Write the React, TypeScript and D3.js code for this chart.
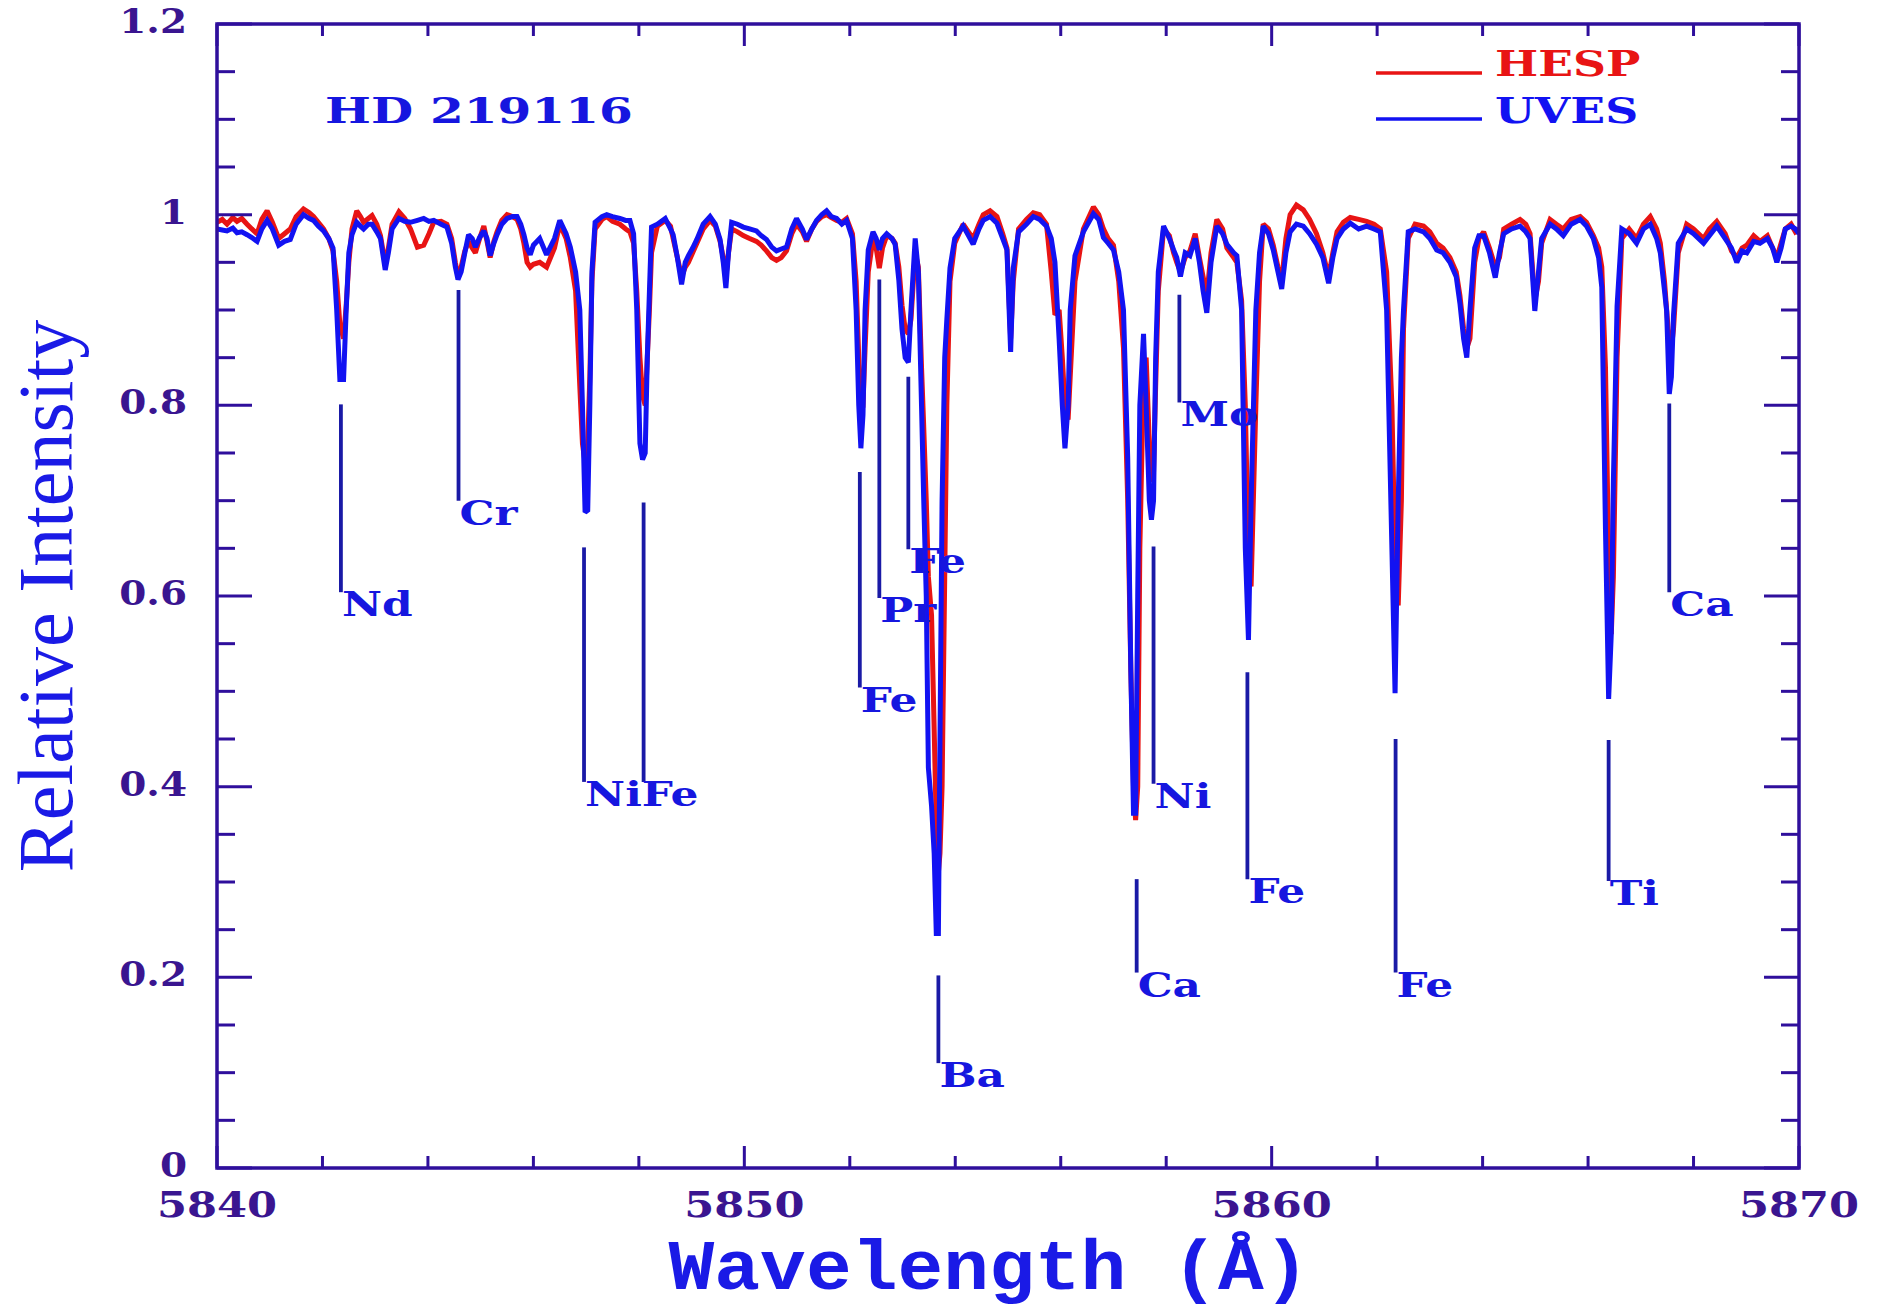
import React from "react";
import * as d3 from "d3";

// Sampled wavelengths (Å) shared by both spectra
const wavelengths = [
  5840.00, 5840.10, 5840.19, 5840.30, 5840.38, 5840.47, 5840.57, 5840.66, 5840.76, 5840.85,
  5840.95, 5841.05, 5841.17, 5841.28, 5841.39, 5841.50, 5841.64, 5841.75, 5841.83, 5841.92,
  5842.02, 5842.12, 5842.20, 5842.27, 5842.33, 5842.40, 5842.45, 5842.50, 5842.56, 5842.65,
  5842.72, 5842.78, 5842.87, 5842.94, 5843.03, 5843.10, 5843.19, 5843.25, 5843.32, 5843.45,
  5843.56, 5843.67, 5843.80, 5843.92, 5844.02, 5844.11, 5844.25, 5844.36, 5844.45, 5844.52,
  5844.57, 5844.63, 5844.70, 5844.77, 5844.84, 5844.90, 5844.98, 5845.06, 5845.12, 5845.18,
  5845.25, 5845.31, 5845.40, 5845.50, 5845.60, 5845.69, 5845.76, 5845.82, 5845.88, 5845.94,
  5846.00, 5846.12, 5846.25, 5846.40, 5846.50, 5846.62, 5846.70, 5846.80, 5846.88, 5846.93,
  5846.98, 5847.03, 5847.07, 5847.11, 5847.17, 5847.30, 5847.39, 5847.50, 5847.64, 5847.75,
  5847.83, 5847.90, 5847.96, 5848.02, 5848.07, 5848.12, 5848.16, 5848.20, 5848.24, 5848.35,
  5848.50, 5848.60, 5848.65, 5848.73, 5848.81, 5848.88, 5848.94, 5849.02, 5849.10, 5849.22,
  5849.35, 5849.45, 5849.54, 5849.60, 5849.65, 5849.70, 5849.76, 5849.87, 5849.98, 5850.10,
  5850.23, 5850.32, 5850.42, 5850.52, 5850.61, 5850.70, 5850.80, 5850.90, 5850.99, 5851.10,
  5851.18, 5851.28, 5851.37, 5851.47, 5851.56, 5851.65, 5851.75, 5851.85, 5851.94, 5852.05,
  5852.12, 5852.17, 5852.21, 5852.25, 5852.29, 5852.35, 5852.44, 5852.50, 5852.56, 5852.62,
  5852.70, 5852.80, 5852.86, 5852.93, 5852.99, 5853.05, 5853.11, 5853.16, 5853.24, 5853.30,
  5853.36, 5853.40, 5853.45, 5853.49, 5853.55, 5853.60, 5853.64, 5853.68, 5853.71, 5853.75,
  5853.80, 5853.84, 5853.90, 5853.99, 5854.15, 5854.25, 5854.34, 5854.45, 5854.53, 5854.66,
  5854.79, 5854.90, 5854.98, 5855.05, 5855.10, 5855.20, 5855.35, 5855.48, 5855.60, 5855.73,
  5855.82, 5855.89, 5855.97, 5856.03, 5856.08, 5856.14, 5856.18, 5856.27, 5856.43, 5856.62,
  5856.72, 5856.81, 5856.90, 5857.00, 5857.10, 5857.19, 5857.27, 5857.33, 5857.38, 5857.42,
  5857.46, 5857.50, 5857.57, 5857.62, 5857.68, 5857.72, 5857.76, 5857.80, 5857.85, 5857.95,
  5858.06, 5858.14, 5858.20, 5858.27, 5858.36, 5858.45, 5858.55, 5858.63, 5858.70, 5858.77,
  5858.85, 5858.96, 5859.07, 5859.15, 5859.28, 5859.34, 5859.43, 5859.50, 5859.56, 5859.61,
  5859.70, 5859.77, 5859.84, 5859.94, 5860.03, 5860.12, 5860.19, 5860.27, 5860.35, 5860.47,
  5860.60, 5860.72, 5860.85, 5860.97, 5861.08, 5861.16, 5861.24, 5861.36, 5861.49, 5861.65,
  5861.80, 5861.94, 5862.06, 5862.18, 5862.28, 5862.34, 5862.40, 5862.46, 5862.50, 5862.59,
  5862.72, 5862.88, 5863.00, 5863.13, 5863.25, 5863.38, 5863.50, 5863.57, 5863.64, 5863.70,
  5863.76, 5863.85, 5863.93, 5864.02, 5864.13, 5864.24, 5864.32, 5864.40, 5864.55, 5864.71,
  5864.82, 5864.90, 5864.99, 5865.06, 5865.12, 5865.28, 5865.40, 5865.53, 5865.68, 5865.85,
  5865.97, 5866.10, 5866.20, 5866.26, 5866.33, 5866.39, 5866.44, 5866.48, 5866.55, 5866.64,
  5866.78, 5866.92, 5867.05, 5867.18, 5867.30, 5867.37, 5867.45, 5867.49, 5867.54, 5867.58,
  5867.62, 5867.71, 5867.87, 5868.00, 5868.19, 5868.30, 5868.44, 5868.60, 5868.72, 5868.82,
  5868.92, 5869.01, 5869.14, 5869.26, 5869.40, 5869.50, 5869.58, 5869.66, 5869.74, 5869.85,
  5869.93, 5870.00,
];

// UVES relative intensity
const uvesFlux = [
  0.985, 0.984, 0.983, 0.986, 0.981, 0.982, 0.979, 0.976, 0.972, 0.985,
  0.994, 0.985, 0.968, 0.972, 0.974, 0.990, 1.000, 0.996, 0.994, 0.988,
  0.983, 0.975, 0.965, 0.900, 0.827, 0.827, 0.900, 0.960, 0.979, 0.992,
  0.988, 0.985, 0.990, 0.990, 0.982, 0.975, 0.942, 0.960, 0.985, 0.996,
  0.993, 0.992, 0.994, 0.996, 0.993, 0.994, 0.990, 0.987, 0.970, 0.945,
  0.932, 0.940, 0.960, 0.979, 0.975, 0.966, 0.976, 0.983, 0.975, 0.957,
  0.970, 0.979, 0.990, 0.996, 0.998, 0.998, 0.990, 0.979, 0.965, 0.958,
  0.968, 0.975, 0.958, 0.975, 0.994, 0.980, 0.966, 0.940, 0.900, 0.800,
  0.688, 0.690, 0.800, 0.940, 0.992, 0.998, 1.000, 0.998, 0.996, 0.994,
  0.994, 0.980, 0.900, 0.760, 0.743, 0.750, 0.850, 0.919, 0.987, 0.990,
  0.996, 0.985, 0.979, 0.955, 0.927, 0.950, 0.957, 0.965, 0.974, 0.990,
  0.998, 0.990, 0.974, 0.950, 0.923, 0.960, 0.992, 0.990, 0.987, 0.985,
  0.983, 0.978, 0.974, 0.966, 0.962, 0.964, 0.966, 0.985, 0.996, 0.985,
  0.974, 0.985, 0.994, 1.000, 1.004, 0.998, 0.996, 0.990, 0.994, 0.975,
  0.900, 0.800, 0.755, 0.790, 0.900, 0.963, 0.982, 0.975, 0.963, 0.975,
  0.980, 0.975, 0.969, 0.931, 0.880, 0.850, 0.845, 0.900, 0.975, 0.940,
  0.800, 0.705, 0.600, 0.420, 0.380, 0.330, 0.246, 0.246, 0.450, 0.700,
  0.850, 0.890, 0.944, 0.975, 0.988, 0.978, 0.969, 0.985, 0.994, 0.998,
  0.991, 0.975, 0.963, 0.856, 0.944, 0.982, 0.990, 0.998, 0.995, 0.988,
  0.975, 0.950, 0.869, 0.800, 0.755, 0.800, 0.900, 0.957, 0.982, 1.001,
  0.995, 0.976, 0.970, 0.963, 0.940, 0.900, 0.745, 0.520, 0.372, 0.372,
  0.600, 0.800, 0.875, 0.800, 0.700, 0.680, 0.700, 0.850, 0.940, 0.988,
  0.975, 0.963, 0.955, 0.935, 0.960, 0.957, 0.975, 0.950, 0.920, 0.897,
  0.950, 0.988, 0.980, 0.969, 0.960, 0.957, 0.900, 0.650, 0.554, 0.700,
  0.900, 0.960, 0.988, 0.980, 0.963, 0.940, 0.922, 0.960, 0.982, 0.990,
  0.988, 0.980, 0.969, 0.955, 0.928, 0.955, 0.975, 0.985, 0.991, 0.985,
  0.988, 0.985, 0.982, 0.900, 0.650, 0.498, 0.700, 0.850, 0.900, 0.982,
  0.985, 0.982, 0.975, 0.963, 0.960, 0.950, 0.935, 0.907, 0.870, 0.850,
  0.900, 0.965, 0.978, 0.978, 0.960, 0.934, 0.960, 0.980, 0.985, 0.988,
  0.982, 0.975, 0.899, 0.940, 0.975, 0.990, 0.985, 0.978, 0.990, 0.995,
  0.988, 0.975, 0.955, 0.924, 0.670, 0.492, 0.560, 0.720, 0.904, 0.985,
  0.980, 0.970, 0.985, 0.990, 0.975, 0.960, 0.920, 0.899, 0.812, 0.830,
  0.894, 0.970, 0.985, 0.980, 0.970, 0.978, 0.988, 0.975, 0.965, 0.950,
  0.962, 0.960, 0.972, 0.970, 0.975, 0.965, 0.950, 0.965, 0.985, 0.988,
  0.985, 0.980,
];

// HESP relative intensity
const hespFlux = [
  0.992, 0.995, 0.990, 0.997, 0.993, 0.996, 0.990, 0.985, 0.980, 0.995,
  1.004, 0.992, 0.975, 0.980, 0.985, 0.998, 1.006, 1.002, 0.998, 0.992,
  0.985, 0.975, 0.962, 0.930, 0.885, 0.870, 0.905, 0.950, 0.985, 1.004,
  0.998, 0.992, 0.996, 0.999, 0.990, 0.978, 0.948, 0.965, 0.990, 1.003,
  0.996, 0.985, 0.966, 0.968, 0.980, 0.992, 0.993, 0.990, 0.975, 0.950,
  0.935, 0.945, 0.962, 0.972, 0.965, 0.960, 0.975, 0.988, 0.972, 0.955,
  0.972, 0.982, 0.994, 1.000, 0.998, 0.995, 0.985, 0.970, 0.950, 0.945,
  0.948, 0.950, 0.945, 0.965, 0.990, 0.975, 0.955, 0.920, 0.820, 0.760,
  0.740, 0.760, 0.830, 0.930, 0.985, 0.995, 0.998, 0.993, 0.990, 0.985,
  0.982, 0.970, 0.920, 0.850, 0.810, 0.800, 0.850, 0.900, 0.960, 0.988,
  0.994, 0.988, 0.975, 0.955, 0.935, 0.945, 0.950, 0.960, 0.970, 0.985,
  0.994, 0.988, 0.972, 0.955, 0.935, 0.960, 0.985, 0.982, 0.978, 0.975,
  0.972, 0.968, 0.962, 0.955, 0.952, 0.955, 0.962, 0.980, 0.990, 0.982,
  0.972, 0.985, 0.993, 0.998, 1.000, 0.997, 0.994, 0.992, 0.996, 0.980,
  0.930, 0.850, 0.800, 0.800, 0.860, 0.940, 0.975, 0.965, 0.944, 0.965,
  0.978, 0.975, 0.970, 0.945, 0.905, 0.880, 0.875, 0.890, 0.960, 0.945,
  0.840, 0.780, 0.700, 0.620, 0.580, 0.460, 0.360, 0.310, 0.330, 0.400,
  0.620, 0.800, 0.930, 0.970, 0.990, 0.982, 0.975, 0.990, 1.000, 1.004,
  0.998, 0.980, 0.965, 0.870, 0.930, 0.985, 0.995, 1.002, 1.000, 0.990,
  0.940, 0.895, 0.900, 0.850, 0.800, 0.785, 0.830, 0.930, 0.985, 1.008,
  1.000, 0.985, 0.975, 0.968, 0.930, 0.860, 0.700, 0.520, 0.400, 0.365,
  0.400, 0.650, 0.830, 0.850, 0.760, 0.720, 0.730, 0.820, 0.920, 0.985,
  0.978, 0.960, 0.950, 0.940, 0.955, 0.962, 0.980, 0.955, 0.935, 0.915,
  0.960, 0.995, 0.985, 0.965, 0.955, 0.950, 0.910, 0.800, 0.640, 0.610,
  0.800, 0.930, 0.990, 0.985, 0.968, 0.945, 0.930, 0.975, 1.000, 1.010,
  1.005, 0.995, 0.980, 0.960, 0.935, 0.960, 0.982, 0.992, 0.997, 0.995,
  0.993, 0.990, 0.985, 0.940, 0.800, 0.640, 0.590, 0.700, 0.880, 0.975,
  0.990, 0.988, 0.982, 0.970, 0.965, 0.955, 0.940, 0.915, 0.880, 0.860,
  0.870, 0.950, 0.975, 0.982, 0.965, 0.945, 0.955, 0.985, 0.990, 0.995,
  0.990, 0.980, 0.910, 0.930, 0.970, 0.995, 0.990, 0.985, 0.995, 0.998,
  0.992, 0.978, 0.965, 0.945, 0.840, 0.640, 0.560, 0.620, 0.850, 0.975,
  0.985, 0.975, 0.990, 0.998, 0.985, 0.970, 0.930, 0.900, 0.865, 0.860,
  0.880, 0.960, 0.990, 0.985, 0.975, 0.985, 0.993, 0.980, 0.962, 0.955,
  0.965, 0.968, 0.978, 0.972, 0.978, 0.965, 0.955, 0.970, 0.985, 0.990,
  0.982, 0.985,
];

// Axis ticks
const xTickValues = [5840, 5850, 5860, 5870];
const xTickLabels = ["5840", "5850", "5860", "5870"];
const yTickValues = [0, 0.2, 0.4, 0.6, 0.8, 1, 1.2];
const yTickLabels = ["0", "0.2", "0.4", "0.6", "0.8", "1", "1.2"];

// Line identifications: wavelength, top and bottom of the marker, and its label
const markerWaves = [5842.35, 5844.58, 5846.96, 5848.09, 5852.19, 5852.56, 5853.11, 5853.68, 5857.44, 5857.76, 5858.25, 5859.54, 5862.35, 5866.39, 5867.54];
const markerTops = [0.801, 0.921, 0.651, 0.698, 0.730, 0.932, 0.830, 0.202, 0.303, 0.652, 0.916, 0.520, 0.450, 0.449, 0.802];
const markerBottoms = [0.604, 0.700, 0.405, 0.405, 0.504, 0.598, 0.649, 0.110, 0.205, 0.403, 0.803, 0.303, 0.205, 0.301, 0.604];
const markerLabels = ["Nd", "Cr", "NiFe", "", "Fe", "Pr", "Fe", "Ba", "Ca", "Ni", "Mo", "Fe", "Fe", "Ti", "Ca"];

const seriesNames = ["HESP", "UVES"];
const starName = "HD 219116";

const W = 1878;
const H = 1311;
const plot = { left: 217, right: 1799, top: 24, bottom: 1168 };

const AXIS = "#2f0f9c";
const TICK_TEXT = "#3a1590";
const BLUE = "#1212f2";
const RED = "#e81414";
const LABEL_BLUE = "#1616df";
const MARKER = "#1a1aa6";
const SLAB = "'DejaVu Serif', serif";

function WideText(props: {
  x: number; y: number; sx: number; size: number; fill: string;
  anchor?: "start" | "middle" | "end"; family?: string; weight?: string | number;
  children: React.ReactNode;
}) {
  const { x, y, sx, size, fill, anchor = "start", family = SLAB, weight = "bold", children } = props;
  return (
    <text
      transform={`translate(${x},${y}) scale(${sx},1)`}
      fontFamily={family}
      fontWeight={weight}
      fontSize={size}
      fill={fill}
      textAnchor={anchor}
    >
      {children}
    </text>
  );
}

export default function App() {
  const x = d3.scaleLinear().domain([5840, 5870]).range([plot.left, plot.right]);
  const y = d3.scaleLinear().domain([0, 1.2]).range([plot.bottom, plot.top]);

  const spectrum = (flux: number[]) =>
    d3.line<number>()
      .x((_, i) => x(wavelengths[i]))
      .y((d) => y(d))(flux) ?? "";

  const xMinor = x.ticks(15).filter((t) => !xTickValues.includes(t));
  const yMinor = y.ticks(24).filter((t) => !yTickValues.some((v) => Math.abs(v - t) < 1e-9));

  const xMajLen = 22, xMinLen = 12, yMajLen = 35, yMinLen = 18;
  const axisW = 3.5;

  return (
    <svg
      width={W}
      height={H}
      viewBox={`0 0 ${W} ${H}`}
      style={{ position: "absolute", left: 0, top: 0, background: "#fff" }}
    >
      <rect x={0} y={0} width={W} height={H} fill="#fff" />

      <clipPath id="plot-area">
        <rect x={plot.left} y={plot.top} width={plot.right - plot.left} height={plot.bottom - plot.top} />
      </clipPath>

      {/* spectra: HESP underneath, UVES on top */}
      <g clipPath="url(#plot-area)" fill="none" strokeLinejoin="miter" strokeMiterlimit={2} strokeLinecap="butt">
        <path d={spectrum(hespFlux)} stroke={RED} strokeWidth={5} />
        <path d={spectrum(uvesFlux)} stroke={BLUE} strokeWidth={5} />
      </g>

      {/* line identifications */}
      <g>
        {markerWaves.map((w, i) => (
          <line
            key={`m${i}`}
            x1={x(w)}
            x2={x(w)}
            y1={y(markerTops[i])}
            y2={y(markerBottoms[i])}
            stroke={MARKER}
            strokeWidth={3.8}
          />
        ))}
        {markerWaves.map((w, i) =>
          markerLabels[i] ? (
            <WideText key={`l${i}`} x={x(w) + 1} y={y(markerBottoms[i]) + 24} sx={1.33} size={33} fill={LABEL_BLUE}>
              {markerLabels[i]}
            </WideText>
          ) : null
        )}
      </g>

      {/* frame */}
      <rect
        x={plot.left}
        y={plot.top}
        width={plot.right - plot.left}
        height={plot.bottom - plot.top}
        fill="none"
        stroke={AXIS}
        strokeWidth={axisW}
      />

      {/* x ticks, bottom and top */}
      <g stroke={AXIS} strokeWidth={3}>
        {xMinor.map((t) => (
          <g key={`xm${t}`}>
            <line x1={x(t)} x2={x(t)} y1={plot.bottom} y2={plot.bottom - xMinLen} />
            <line x1={x(t)} x2={x(t)} y1={plot.top} y2={plot.top + xMinLen} />
          </g>
        ))}
        {xTickValues.map((t) => (
          <g key={`xM${t}`}>
            <line x1={x(t)} x2={x(t)} y1={plot.bottom} y2={plot.bottom - xMajLen} />
            <line x1={x(t)} x2={x(t)} y1={plot.top} y2={plot.top + xMajLen} />
          </g>
        ))}
      </g>

      {/* y ticks, left and right */}
      <g stroke={AXIS} strokeWidth={3}>
        {yMinor.map((t) => (
          <g key={`ym${t}`}>
            <line x1={plot.left} x2={plot.left + yMinLen} y1={y(t)} y2={y(t)} />
            <line x1={plot.right} x2={plot.right - yMinLen} y1={y(t)} y2={y(t)} />
          </g>
        ))}
        {yTickValues.map((t) => (
          <g key={`yM${t}`}>
            <line x1={plot.left} x2={plot.left + yMajLen} y1={y(t)} y2={y(t)} />
            <line x1={plot.right} x2={plot.right - yMajLen} y1={y(t)} y2={y(t)} />
          </g>
        ))}
      </g>

      {/* tick labels */}
      {xTickValues.map((t, i) => (
        <WideText key={`xl${t}`} x={x(t)} y={plot.bottom + 49} sx={1.2} size={36} fill={TICK_TEXT} anchor="middle">
          {xTickLabels[i]}
        </WideText>
      ))}
      {yTickValues.map((t, i) => (
        <WideText key={`yl${t}`} x={187} y={y(t) + 9} sx={1.18} size={33} fill={TICK_TEXT} anchor="end">
          {yTickLabels[i]}
        </WideText>
      ))}

      {/* star name */}
      <WideText x={325} y={123} sx={1.35} size={36} fill={LABEL_BLUE}>
        {starName}
      </WideText>

      {/* legend */}
      <line x1={1376} x2={1482} y1={73} y2={73} stroke={RED} strokeWidth={3.5} />
      <WideText x={1495} y={76} sx={1.27} size={36} fill={RED}>
        {seriesNames[0]}
      </WideText>
      <line x1={1376} x2={1482} y1={119} y2={119} stroke={BLUE} strokeWidth={3.5} />
      <WideText x={1495} y={123} sx={1.27} size={36} fill={BLUE}>
        {seriesNames[1]}
      </WideText>

      {/* axis titles */}
      <text
        transform={`translate(72,${(plot.top + plot.bottom) / 2}) rotate(-90)`}
        textAnchor="middle"
        fontFamily="'Liberation Serif', 'Times New Roman', serif"
        fontSize={78}
        fill="#1a1ae6"
      >
        Relative Intensity
      </text>
      <WideText
        x={989}
        y={1289}
        sx={1.09}
        size={70}
        anchor="middle"
        family="'Liberation Mono', 'Courier New', monospace"
        fill="#1a1ae6"
      >
        Wavelength (Å)
      </WideText>
    </svg>
  );
}
